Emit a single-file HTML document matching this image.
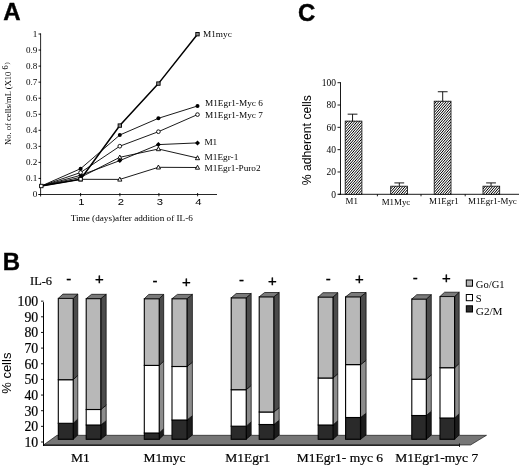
<!DOCTYPE html>
<html><head><meta charset="utf-8"><title>Figure</title>
<style>
html,body{margin:0;padding:0;background:#fff;}
svg{display:block;}
text{fill:#000;}
</style></head>
<body>
<svg width="520" height="468" viewBox="0 0 520 468">
<defs><filter id="soft" x="0" y="0" width="520" height="468" filterUnits="userSpaceOnUse"><feGaussianBlur stdDeviation="0.45"/></filter></defs>
<rect width="520" height="468" fill="#fff"/>
<g filter="url(#soft)">
<text x="3.2" y="20.4" font-family='"Liberation Sans", sans-serif' font-size="24" text-anchor="start" font-weight="bold" stroke="#000" stroke-width="0.4">A</text>
<line x1="40.6" y1="33.5" x2="40.6" y2="196.5" stroke="#000" stroke-width="0.85"/>
<line x1="38.5" y1="194.5" x2="217" y2="194.5" stroke="#000" stroke-width="0.85"/>
<line x1="38.5" y1="194.5" x2="41.0" y2="194.5" stroke="#000" stroke-width="0.9"/>
<text x="37.4" y="197.4" font-family='"Liberation Serif", serif' font-size="9.1" text-anchor="end" font-weight="normal" >0</text>
<line x1="38.5" y1="178.45" x2="41.0" y2="178.45" stroke="#000" stroke-width="0.9"/>
<text x="37.4" y="181.3" font-family='"Liberation Serif", serif' font-size="9.1" text-anchor="end" font-weight="normal" >0.1</text>
<line x1="38.5" y1="162.4" x2="41.0" y2="162.4" stroke="#000" stroke-width="0.9"/>
<text x="37.4" y="165.3" font-family='"Liberation Serif", serif' font-size="9.1" text-anchor="end" font-weight="normal" >0.2</text>
<line x1="38.5" y1="146.35" x2="41.0" y2="146.35" stroke="#000" stroke-width="0.9"/>
<text x="37.4" y="149.2" font-family='"Liberation Serif", serif' font-size="9.1" text-anchor="end" font-weight="normal" >0.3</text>
<line x1="38.5" y1="130.3" x2="41.0" y2="130.3" stroke="#000" stroke-width="0.9"/>
<text x="37.4" y="133.2" font-family='"Liberation Serif", serif' font-size="9.1" text-anchor="end" font-weight="normal" >0.4</text>
<line x1="38.5" y1="114.25" x2="41.0" y2="114.25" stroke="#000" stroke-width="0.9"/>
<text x="37.4" y="117.2" font-family='"Liberation Serif", serif' font-size="9.1" text-anchor="end" font-weight="normal" >0.5</text>
<line x1="38.5" y1="98.2" x2="41.0" y2="98.2" stroke="#000" stroke-width="0.9"/>
<text x="37.4" y="101.1" font-family='"Liberation Serif", serif' font-size="9.1" text-anchor="end" font-weight="normal" >0.6</text>
<line x1="38.5" y1="82.15" x2="41.0" y2="82.15" stroke="#000" stroke-width="0.9"/>
<text x="37.4" y="85.1" font-family='"Liberation Serif", serif' font-size="9.1" text-anchor="end" font-weight="normal" >0.7</text>
<line x1="38.5" y1="66.1" x2="41.0" y2="66.1" stroke="#000" stroke-width="0.9"/>
<text x="37.4" y="69.0" font-family='"Liberation Serif", serif' font-size="9.1" text-anchor="end" font-weight="normal" >0.8</text>
<line x1="38.5" y1="50.04999999999998" x2="41.0" y2="50.04999999999998" stroke="#000" stroke-width="0.9"/>
<text x="37.4" y="52.9" font-family='"Liberation Serif", serif' font-size="9.1" text-anchor="end" font-weight="normal" >0.9</text>
<line x1="38.5" y1="34.0" x2="41.0" y2="34.0" stroke="#000" stroke-width="0.9"/>
<text x="37.4" y="36.9" font-family='"Liberation Serif", serif' font-size="9.1" text-anchor="end" font-weight="normal" >1</text>
<line x1="80.6" y1="193.0" x2="80.6" y2="196.3" stroke="#000" stroke-width="0.9"/>
<text transform="translate(81.5,205.4) scale(1.2,1)" font-family='"Liberation Sans", sans-serif' font-size="9.4" text-anchor="middle">1</text>
<line x1="119.9" y1="193.0" x2="119.9" y2="196.3" stroke="#000" stroke-width="0.9"/>
<text transform="translate(120.8,205.4) scale(1.2,1)" font-family='"Liberation Sans", sans-serif' font-size="9.4" text-anchor="middle">2</text>
<line x1="158.9" y1="193.0" x2="158.9" y2="196.3" stroke="#000" stroke-width="0.9"/>
<text transform="translate(159.8,205.4) scale(1.2,1)" font-family='"Liberation Sans", sans-serif' font-size="9.4" text-anchor="middle">3</text>
<line x1="197.6" y1="193.0" x2="197.6" y2="196.3" stroke="#000" stroke-width="0.9"/>
<text transform="translate(198.5,205.4) scale(1.2,1)" font-family='"Liberation Sans", sans-serif' font-size="9.4" text-anchor="middle">4</text>
<text x="131.8" y="220.7" font-family='"Liberation Serif", serif' font-size="9.2" text-anchor="middle" font-weight="normal" >Time (days)after addition of IL-6</text>
<text transform="translate(11.2,103.6) rotate(-90)" font-family='"Liberation Serif", serif' font-size="8.55" text-anchor="middle">No. of cells/mL (X10<tspan dy="-3.6" dx="2.2" font-size="8.4">6</tspan><tspan dy="1.2" dx="0.8" font-size="6.5">)</tspan></text>
<polyline fill="none" stroke="#000" stroke-width="0.9" points="41.3,186.0 80.6,179.3 119.8,179.4 158.4,167.3 197.5,167.5"/>
<polyline fill="none" stroke="#000" stroke-width="0.9" points="41.3,186.0 80.6,177.3 119.8,157.3 158.4,149.0 197.5,158.0"/>
<polyline fill="none" stroke="#000" stroke-width="0.9" points="41.3,186.0 80.6,175.3 119.8,160.6 158.4,144.6 197.5,142.9"/>
<polyline fill="none" stroke="#000" stroke-width="0.9" points="41.3,186.0 80.6,172.5 119.8,146.2 158.4,131.7 197.5,114.6"/>
<polyline fill="none" stroke="#000" stroke-width="0.9" points="41.3,186.0 80.6,168.7 119.8,135.0 158.4,118.3 197.5,106.0"/>
<polyline fill="none" stroke="#000" stroke-width="1.5" points="41.3,186.0 80.6,179.2 119.8,125.6 158.4,83.6 197.5,34.2"/>
<polygon points="78.5,181.0 80.6,177.0 82.7,181.0" fill="#fff" stroke="#000" stroke-width="0.9"/>
<polygon points="117.7,181.1 119.8,177.1 121.9,181.1" fill="#fff" stroke="#000" stroke-width="0.9"/>
<polygon points="156.3,169.0 158.4,165.0 160.5,169.0" fill="#fff" stroke="#000" stroke-width="0.9"/>
<polygon points="195.4,169.2 197.5,165.2 199.6,169.2" fill="#fff" stroke="#000" stroke-width="0.9"/>
<text x="204.6" y="171.2" font-family='"Liberation Serif", serif' font-size="9.25" text-anchor="start" font-weight="normal" >M1Egr1-Puro2</text>
<polygon points="78.5,179.0 80.6,175.0 82.7,179.0" fill="#fff" stroke="#000" stroke-width="0.9"/>
<polygon points="117.7,159.0 119.8,155.0 121.9,159.0" fill="#fff" stroke="#000" stroke-width="0.9"/>
<polygon points="156.3,150.7 158.4,146.7 160.5,150.7" fill="#fff" stroke="#000" stroke-width="0.9"/>
<polygon points="195.4,159.7 197.5,155.7 199.6,159.7" fill="#fff" stroke="#000" stroke-width="0.9"/>
<text x="204.6" y="159.6" font-family='"Liberation Serif", serif' font-size="9.25" text-anchor="start" font-weight="normal" >M1Egr-1</text>
<polygon points="78.1,175.3 80.6,172.8 83.1,175.3 80.6,177.8" fill="#000"/>
<polygon points="117.3,160.6 119.8,158.1 122.3,160.6 119.8,163.1" fill="#000"/>
<polygon points="155.9,144.6 158.4,142.1 160.9,144.6 158.4,147.1" fill="#000"/>
<polygon points="195.0,142.9 197.5,140.4 200.0,142.9 197.5,145.4" fill="#000"/>
<text x="204.4" y="145.2" font-family='"Liberation Serif", serif' font-size="9.25" text-anchor="start" font-weight="normal" >M1</text>
<circle cx="80.6" cy="172.5" r="1.85" fill="#fff" stroke="#000" stroke-width="0.9"/>
<circle cx="119.8" cy="146.2" r="1.85" fill="#fff" stroke="#000" stroke-width="0.9"/>
<circle cx="158.4" cy="131.7" r="1.85" fill="#fff" stroke="#000" stroke-width="0.9"/>
<circle cx="197.5" cy="114.6" r="1.85" fill="#fff" stroke="#000" stroke-width="0.9"/>
<text x="205" y="117.5" font-family='"Liberation Serif", serif' font-size="9.25" text-anchor="start" font-weight="normal" >M1Egr1-Myc 7</text>
<circle cx="80.6" cy="168.7" r="2.0" fill="#000"/>
<circle cx="119.8" cy="135.0" r="2.0" fill="#000"/>
<circle cx="158.4" cy="118.3" r="2.0" fill="#000"/>
<circle cx="197.5" cy="106.0" r="2.0" fill="#000"/>
<text x="205" y="106" font-family='"Liberation Serif", serif' font-size="9.25" text-anchor="start" font-weight="normal" >M1Egr1-Myc 6</text>
<rect x="39.6" y="184.3" width="3.4" height="3.4" fill="#fff" stroke="#000" stroke-width="0.9"/>
<rect x="78.9" y="177.5" width="3.4" height="3.4" fill="#fff" stroke="#000" stroke-width="0.9"/>
<rect x="118.1" y="123.9" width="3.4" height="3.4" fill="#8a8a8a" stroke="#000" stroke-width="0.9"/>
<rect x="156.7" y="81.9" width="3.4" height="3.4" fill="#8a8a8a" stroke="#000" stroke-width="0.9"/>
<rect x="195.8" y="32.5" width="3.4" height="3.4" fill="#8a8a8a" stroke="#000" stroke-width="0.9"/>
<text x="203" y="36.5" font-family='"Liberation Serif", serif' font-size="9.25" text-anchor="start" font-weight="normal" >M1myc</text>
<text x="297.9" y="21.0" font-family='"Liberation Sans", sans-serif' font-size="24" text-anchor="start" font-weight="bold" stroke="#000" stroke-width="0.4">C</text>
<defs><pattern id="hatch" width="2.0" height="2.0" patternUnits="userSpaceOnUse" patternTransform="rotate(-48)"><rect width="2.0" height="2.0" fill="#fff"/><line x1="0" y1="1.0" x2="2.0" y2="1.0" stroke="#000" stroke-width="0.85"/></pattern></defs>
<line x1="340.5" y1="82.2" x2="340.5" y2="194.8" stroke="#000" stroke-width="0.9"/>
<line x1="338.5" y1="194.3" x2="519" y2="194.3" stroke="#000" stroke-width="0.9"/>
<line x1="337.5" y1="194.3" x2="340.5" y2="194.3" stroke="#000" stroke-width="0.9"/>
<text x="336.0" y="197.5" font-family='"Liberation Serif", serif' font-size="9.5" text-anchor="end" font-weight="normal" >0</text>
<line x1="337.5" y1="171.98000000000002" x2="340.5" y2="171.98000000000002" stroke="#000" stroke-width="0.9"/>
<text x="336.0" y="175.2" font-family='"Liberation Serif", serif' font-size="9.5" text-anchor="end" font-weight="normal" >20</text>
<line x1="337.5" y1="149.66000000000003" x2="340.5" y2="149.66000000000003" stroke="#000" stroke-width="0.9"/>
<text x="336.0" y="152.9" font-family='"Liberation Serif", serif' font-size="9.5" text-anchor="end" font-weight="normal" >40</text>
<line x1="337.5" y1="127.34" x2="340.5" y2="127.34" stroke="#000" stroke-width="0.9"/>
<text x="336.0" y="130.5" font-family='"Liberation Serif", serif' font-size="9.5" text-anchor="end" font-weight="normal" >60</text>
<line x1="337.5" y1="105.02000000000001" x2="340.5" y2="105.02000000000001" stroke="#000" stroke-width="0.9"/>
<text x="336.0" y="108.2" font-family='"Liberation Serif", serif' font-size="9.5" text-anchor="end" font-weight="normal" >80</text>
<line x1="337.5" y1="82.7" x2="340.5" y2="82.7" stroke="#000" stroke-width="0.9"/>
<text x="336.0" y="85.9" font-family='"Liberation Serif", serif' font-size="9.5" text-anchor="end" font-weight="normal" >100</text>
<clipPath id="cbM1"><rect x="345.2" y="121.1" width="16.7" height="73.2"/></clipPath>
<rect x="345.2" y="121.1" width="16.7" height="73.2" fill="#fff"/>
<path d="M345.2,121.09L361.9,101.88M345.2,123.94L361.9,104.73M345.2,126.79L361.9,107.58M345.2,129.64L361.9,110.43M345.2,132.49L361.9,113.28M345.2,135.34L361.9,116.13M345.2,138.19L361.9,118.98M345.2,141.04L361.9,121.83M345.2,143.89L361.9,124.68M345.2,146.74L361.9,127.53M345.2,149.59L361.9,130.38M345.2,152.44L361.9,133.23M345.2,155.29L361.9,136.08M345.2,158.14L361.9,138.93M345.2,160.99L361.9,141.78M345.2,163.84L361.9,144.63M345.2,166.69L361.9,147.48M345.2,169.54L361.9,150.33M345.2,172.39L361.9,153.18M345.2,175.24L361.9,156.03M345.2,178.09L361.9,158.88M345.2,180.94L361.9,161.73M345.2,183.79L361.9,164.58M345.2,186.64L361.9,167.43M345.2,189.49L361.9,170.28M345.2,192.34L361.9,173.13M345.2,195.19L361.9,175.98M345.2,198.04L361.9,178.83M345.2,200.89L361.9,181.68M345.2,203.74L361.9,184.53M345.2,206.59L361.9,187.38M345.2,209.44L361.9,190.23M345.2,212.29L361.9,193.08" stroke="#000" stroke-width="1.0" fill="none" clip-path="url(#cbM1)"/>
<rect x="345.2" y="121.1" width="16.7" height="73.2" fill="none" stroke="#000" stroke-width="0.8"/>
<line x1="352.54999999999995" y1="121.09040000000002" x2="352.54999999999995" y2="114.17120000000001" stroke="#000" stroke-width="0.9"/>
<line x1="347.65" y1="114.17120000000001" x2="357.44999999999993" y2="114.17120000000001" stroke="#000" stroke-width="0.9"/>
<text x="345.6" y="203.9" font-family='"Liberation Serif", serif' font-size="8.9" text-anchor="start" font-weight="normal" >M1</text>
<clipPath id="cbM1Myc"><rect x="390.7" y="186.2" width="16.8" height="8.1"/></clipPath>
<rect x="390.7" y="186.2" width="16.8" height="8.1" fill="#fff"/>
<path d="M390.7,186.15L407.5,166.83M390.7,189.00L407.5,169.68M390.7,191.85L407.5,172.53M390.7,194.70L407.5,175.38M390.7,197.55L407.5,178.23M390.7,200.40L407.5,181.08M390.7,203.25L407.5,183.93M390.7,206.10L407.5,186.78M390.7,208.95L407.5,189.63M390.7,211.80L407.5,192.48" stroke="#000" stroke-width="1.0" fill="none" clip-path="url(#cbM1Myc)"/>
<rect x="390.7" y="186.2" width="16.8" height="8.1" fill="none" stroke="#000" stroke-width="0.8"/>
<line x1="399.3" y1="186.1532" x2="399.3" y2="182.91680000000002" stroke="#000" stroke-width="0.9"/>
<line x1="394.40000000000003" y1="182.91680000000002" x2="404.2" y2="182.91680000000002" stroke="#000" stroke-width="0.9"/>
<text x="381.7" y="204.6" font-family='"Liberation Serif", serif' font-size="8.9" text-anchor="start" font-weight="normal" >M1Myc</text>
<clipPath id="cbM1Egr1"><rect x="434.2" y="101.2" width="16.8" height="93.1"/></clipPath>
<rect x="434.2" y="101.2" width="16.8" height="93.1" fill="#fff"/>
<path d="M434.2,101.23L451.0,81.90M434.2,104.08L451.0,84.75M434.2,106.93L451.0,87.60M434.2,109.78L451.0,90.45M434.2,112.63L451.0,93.30M434.2,115.48L451.0,96.15M434.2,118.33L451.0,99.00M434.2,121.18L451.0,101.85M434.2,124.03L451.0,104.70M434.2,126.88L451.0,107.55M434.2,129.73L451.0,110.40M434.2,132.58L451.0,113.25M434.2,135.43L451.0,116.10M434.2,138.28L451.0,118.95M434.2,141.13L451.0,121.80M434.2,143.98L451.0,124.65M434.2,146.83L451.0,127.50M434.2,149.68L451.0,130.35M434.2,152.53L451.0,133.20M434.2,155.38L451.0,136.05M434.2,158.23L451.0,138.90M434.2,161.08L451.0,141.75M434.2,163.93L451.0,144.60M434.2,166.78L451.0,147.45M434.2,169.63L451.0,150.30M434.2,172.48L451.0,153.15M434.2,175.33L451.0,156.00M434.2,178.18L451.0,158.85M434.2,181.03L451.0,161.70M434.2,183.88L451.0,164.55M434.2,186.73L451.0,167.40M434.2,189.58L451.0,170.25M434.2,192.43L451.0,173.10M434.2,195.28L451.0,175.95M434.2,198.13L451.0,178.80M434.2,200.98L451.0,181.65M434.2,203.83L451.0,184.50M434.2,206.68L451.0,187.35M434.2,209.53L451.0,190.20M434.2,212.38L451.0,193.05" stroke="#000" stroke-width="1.0" fill="none" clip-path="url(#cbM1Egr1)"/>
<rect x="434.2" y="101.2" width="16.8" height="93.1" fill="none" stroke="#000" stroke-width="0.8"/>
<line x1="442.70000000000005" y1="101.2256" x2="442.70000000000005" y2="91.7396" stroke="#000" stroke-width="0.9"/>
<line x1="437.80000000000007" y1="91.7396" x2="447.6" y2="91.7396" stroke="#000" stroke-width="0.9"/>
<text x="429.0" y="204.2" font-family='"Liberation Serif", serif' font-size="8.9" text-anchor="start" font-weight="normal" >M1Egr1</text>
<clipPath id="cbM1Egr1Myc"><rect x="483.0" y="186.2" width="16.7" height="8.1"/></clipPath>
<rect x="483.0" y="186.2" width="16.7" height="8.1" fill="#fff"/>
<path d="M483.0,186.15L499.7,166.94M483.0,189.00L499.7,169.79M483.0,191.85L499.7,172.64M483.0,194.70L499.7,175.49M483.0,197.55L499.7,178.34M483.0,200.40L499.7,181.19M483.0,203.25L499.7,184.04M483.0,206.10L499.7,186.89M483.0,208.95L499.7,189.74M483.0,211.80L499.7,192.59" stroke="#000" stroke-width="1.0" fill="none" clip-path="url(#cbM1Egr1Myc)"/>
<rect x="483.0" y="186.2" width="16.7" height="8.1" fill="none" stroke="#000" stroke-width="0.8"/>
<line x1="491.05" y1="186.1532" x2="491.05" y2="182.91680000000002" stroke="#000" stroke-width="0.9"/>
<line x1="486.15000000000003" y1="182.91680000000002" x2="495.95" y2="182.91680000000002" stroke="#000" stroke-width="0.9"/>
<text x="468.0" y="204.2" font-family='"Liberation Serif", serif' font-size="8.9" text-anchor="start" font-weight="normal" >M1Egr1-Myc</text>
<line x1="377.4" y1="194.3" x2="377.4" y2="196.3" stroke="#000" stroke-width="0.9"/>
<line x1="421.0" y1="194.3" x2="421.0" y2="196.3" stroke="#000" stroke-width="0.9"/>
<line x1="465.2" y1="194.3" x2="465.2" y2="196.3" stroke="#000" stroke-width="0.9"/>
<text transform="translate(311,140.3) rotate(-90)" font-family='"Liberation Sans", sans-serif' font-size="12.2" text-anchor="middle">% adherent cells</text>
<text x="2.8" y="269.7" font-family='"Liberation Sans", sans-serif' font-size="24" text-anchor="start" font-weight="bold" stroke="#000" stroke-width="0.4">B</text>
<text x="30" y="285.3" font-family='"Liberation Serif", serif' font-size="12.4" text-anchor="start" font-weight="normal" stroke="#000" stroke-width="0.2">IL-6</text>
<polygon points="43.5,445.0 57,435.3 486.5,435.3 470.5,445.0" fill="#767676" stroke="#000" stroke-width="0.6"/>
<line x1="43.5" y1="445.3" x2="459.5" y2="445.3" stroke="#000" stroke-width="1"/>
<line x1="459.5" y1="443.5" x2="459.5" y2="447.0" stroke="#000" stroke-width="0.8"/>
<line x1="43.5" y1="302.15" x2="43.5" y2="446.0" stroke="#000" stroke-width="1"/>
<line x1="41.0" y1="442.0" x2="43.5" y2="442.0" stroke="#000" stroke-width="0.9"/>
<text x="38.2" y="447.0" font-family='"Liberation Serif", serif' font-size="13.8" text-anchor="end" font-weight="normal" stroke="#000" stroke-width="0.2">10</text>
<line x1="41.0" y1="426.35" x2="43.5" y2="426.35" stroke="#000" stroke-width="0.9"/>
<text x="38.2" y="431.4" font-family='"Liberation Serif", serif' font-size="13.8" text-anchor="end" font-weight="normal" stroke="#000" stroke-width="0.2">20</text>
<line x1="41.0" y1="410.7" x2="43.5" y2="410.7" stroke="#000" stroke-width="0.9"/>
<text x="38.2" y="415.7" font-family='"Liberation Serif", serif' font-size="13.8" text-anchor="end" font-weight="normal" stroke="#000" stroke-width="0.2">30</text>
<line x1="41.0" y1="395.05" x2="43.5" y2="395.05" stroke="#000" stroke-width="0.9"/>
<text x="38.2" y="400.1" font-family='"Liberation Serif", serif' font-size="13.8" text-anchor="end" font-weight="normal" stroke="#000" stroke-width="0.2">40</text>
<line x1="41.0" y1="379.4" x2="43.5" y2="379.4" stroke="#000" stroke-width="0.9"/>
<text x="38.2" y="384.4" font-family='"Liberation Serif", serif' font-size="13.8" text-anchor="end" font-weight="normal" stroke="#000" stroke-width="0.2">50</text>
<line x1="41.0" y1="363.75" x2="43.5" y2="363.75" stroke="#000" stroke-width="0.9"/>
<text x="38.2" y="368.8" font-family='"Liberation Serif", serif' font-size="13.8" text-anchor="end" font-weight="normal" stroke="#000" stroke-width="0.2">60</text>
<line x1="41.0" y1="348.1" x2="43.5" y2="348.1" stroke="#000" stroke-width="0.9"/>
<text x="38.2" y="353.1" font-family='"Liberation Serif", serif' font-size="13.8" text-anchor="end" font-weight="normal" stroke="#000" stroke-width="0.2">70</text>
<line x1="41.0" y1="332.45" x2="43.5" y2="332.45" stroke="#000" stroke-width="0.9"/>
<text x="38.2" y="337.4" font-family='"Liberation Serif", serif' font-size="13.8" text-anchor="end" font-weight="normal" stroke="#000" stroke-width="0.2">80</text>
<line x1="41.0" y1="316.8" x2="43.5" y2="316.8" stroke="#000" stroke-width="0.9"/>
<text x="38.2" y="321.8" font-family='"Liberation Serif", serif' font-size="13.8" text-anchor="end" font-weight="normal" stroke="#000" stroke-width="0.2">90</text>
<line x1="41.0" y1="301.15" x2="43.5" y2="301.15" stroke="#000" stroke-width="0.9"/>
<text x="38.2" y="306.1" font-family='"Liberation Serif", serif' font-size="13.8" text-anchor="end" font-weight="normal" stroke="#000" stroke-width="0.2">100</text>
<text transform="translate(10.9,373.2) rotate(-90)" font-family='"Liberation Sans", sans-serif' font-size="13" text-anchor="middle">% cells</text>
<polygon points="73.2,439.3 77.8,435.0 77.8,419.0 73.2,423.3" fill="#1a1a1a" stroke="#000" stroke-width="0.7" stroke-linejoin="round"/>
<rect x="58.3" y="423.3" width="14.900000000000006" height="16.0" fill="#292929" stroke="#000" stroke-width="1.1"/>
<polygon points="73.2,423.3 77.8,419.0 77.8,375.4 73.2,379.7" fill="#8c8c8c" stroke="#000" stroke-width="0.7" stroke-linejoin="round"/>
<rect x="58.3" y="379.7" width="14.900000000000006" height="43.60000000000002" fill="#ffffff" stroke="#000" stroke-width="1.1"/>
<polygon points="73.2,379.7 77.8,375.4 77.8,294.09999999999997 73.2,298.4" fill="#4c4c4c" stroke="#000" stroke-width="0.7" stroke-linejoin="round"/>
<rect x="58.3" y="298.4" width="14.900000000000006" height="81.30000000000001" fill="#b8b8b8" stroke="#000" stroke-width="1.1"/>
<polygon points="58.3,298.4 62.9,294.09999999999997 77.8,294.09999999999997 73.2,298.4" fill="#7a7a7a" stroke="#000" stroke-width="0.7" stroke-linejoin="round"/>
<polygon points="100.8,439.3 106.2,435.0 106.2,420.7 100.8,425.0" fill="#1a1a1a" stroke="#000" stroke-width="0.7" stroke-linejoin="round"/>
<rect x="86.2" y="425.0" width="14.599999999999994" height="14.300000000000011" fill="#292929" stroke="#000" stroke-width="1.1"/>
<polygon points="100.8,425.0 106.2,420.7 106.2,405.2 100.8,409.5" fill="#8c8c8c" stroke="#000" stroke-width="0.7" stroke-linejoin="round"/>
<rect x="86.2" y="409.5" width="14.599999999999994" height="15.5" fill="#ffffff" stroke="#000" stroke-width="1.1"/>
<polygon points="100.8,409.5 106.2,405.2 106.2,294.3 100.8,298.6" fill="#4c4c4c" stroke="#000" stroke-width="0.7" stroke-linejoin="round"/>
<rect x="86.2" y="298.6" width="14.599999999999994" height="110.89999999999998" fill="#b8b8b8" stroke="#000" stroke-width="1.1"/>
<polygon points="86.2,298.6 91.60000000000001,294.3 106.2,294.3 100.8,298.6" fill="#7a7a7a" stroke="#000" stroke-width="0.7" stroke-linejoin="round"/>
<polygon points="159.2,439.3 163.7,435.0 163.7,428.7 159.2,433.0" fill="#1a1a1a" stroke="#000" stroke-width="0.7" stroke-linejoin="round"/>
<rect x="144.3" y="433.0" width="14.899999999999977" height="6.300000000000011" fill="#292929" stroke="#000" stroke-width="1.1"/>
<polygon points="159.2,433.0 163.7,428.7 163.7,361.09999999999997 159.2,365.4" fill="#8c8c8c" stroke="#000" stroke-width="0.7" stroke-linejoin="round"/>
<rect x="144.3" y="365.4" width="14.899999999999977" height="67.60000000000002" fill="#ffffff" stroke="#000" stroke-width="1.1"/>
<polygon points="159.2,365.4 163.7,361.09999999999997 163.7,294.4 159.2,298.7" fill="#4c4c4c" stroke="#000" stroke-width="0.7" stroke-linejoin="round"/>
<rect x="144.3" y="298.7" width="14.899999999999977" height="66.69999999999999" fill="#b8b8b8" stroke="#000" stroke-width="1.1"/>
<polygon points="144.3,298.7 148.8,294.4 163.7,294.4 159.2,298.7" fill="#7a7a7a" stroke="#000" stroke-width="0.7" stroke-linejoin="round"/>
<polygon points="187.0,439.3 192.4,435.0 192.4,415.7 187.0,420.0" fill="#1a1a1a" stroke="#000" stroke-width="0.7" stroke-linejoin="round"/>
<rect x="172.0" y="420.0" width="15.0" height="19.30000000000001" fill="#292929" stroke="#000" stroke-width="1.1"/>
<polygon points="187.0,420.0 192.4,415.7 192.4,362.2 187.0,366.5" fill="#8c8c8c" stroke="#000" stroke-width="0.7" stroke-linejoin="round"/>
<rect x="172.0" y="366.5" width="15.0" height="53.5" fill="#ffffff" stroke="#000" stroke-width="1.1"/>
<polygon points="187.0,366.5 192.4,362.2 192.4,294.4 187.0,298.7" fill="#4c4c4c" stroke="#000" stroke-width="0.7" stroke-linejoin="round"/>
<rect x="172.0" y="298.7" width="15.0" height="67.80000000000001" fill="#b8b8b8" stroke="#000" stroke-width="1.1"/>
<polygon points="172.0,298.7 177.4,294.4 192.4,294.4 187.0,298.7" fill="#7a7a7a" stroke="#000" stroke-width="0.7" stroke-linejoin="round"/>
<polygon points="246.2,439.3 251.2,435.0 251.2,421.9 246.2,426.2" fill="#1a1a1a" stroke="#000" stroke-width="0.7" stroke-linejoin="round"/>
<rect x="231.2" y="426.2" width="15.0" height="13.100000000000023" fill="#292929" stroke="#000" stroke-width="1.1"/>
<polygon points="246.2,426.2 251.2,421.9 251.2,385.4 246.2,389.7" fill="#8c8c8c" stroke="#000" stroke-width="0.7" stroke-linejoin="round"/>
<rect x="231.2" y="389.7" width="15.0" height="36.5" fill="#ffffff" stroke="#000" stroke-width="1.1"/>
<polygon points="246.2,389.7 251.2,385.4 251.2,293.5 246.2,297.8" fill="#4c4c4c" stroke="#000" stroke-width="0.7" stroke-linejoin="round"/>
<rect x="231.2" y="297.8" width="15.0" height="91.89999999999998" fill="#b8b8b8" stroke="#000" stroke-width="1.1"/>
<polygon points="231.2,297.8 236.2,293.5 251.2,293.5 246.2,297.8" fill="#7a7a7a" stroke="#000" stroke-width="0.7" stroke-linejoin="round"/>
<polygon points="273.8,439.3 279.2,435.0 279.2,420.2 273.8,424.5" fill="#1a1a1a" stroke="#000" stroke-width="0.7" stroke-linejoin="round"/>
<rect x="259.2" y="424.5" width="14.600000000000023" height="14.800000000000011" fill="#292929" stroke="#000" stroke-width="1.1"/>
<polygon points="273.8,424.5 279.2,420.2 279.2,407.7 273.8,412.0" fill="#8c8c8c" stroke="#000" stroke-width="0.7" stroke-linejoin="round"/>
<rect x="259.2" y="412.0" width="14.600000000000023" height="12.5" fill="#ffffff" stroke="#000" stroke-width="1.1"/>
<polygon points="273.8,412.0 279.2,407.7 279.2,292.5 273.8,296.8" fill="#4c4c4c" stroke="#000" stroke-width="0.7" stroke-linejoin="round"/>
<rect x="259.2" y="296.8" width="14.600000000000023" height="115.19999999999999" fill="#b8b8b8" stroke="#000" stroke-width="1.1"/>
<polygon points="259.2,296.8 264.59999999999997,292.5 279.2,292.5 273.8,296.8" fill="#7a7a7a" stroke="#000" stroke-width="0.7" stroke-linejoin="round"/>
<polygon points="333.0,439.3 337.8,435.0 337.8,420.7 333.0,425.0" fill="#1a1a1a" stroke="#000" stroke-width="0.7" stroke-linejoin="round"/>
<rect x="318.2" y="425.0" width="14.800000000000011" height="14.300000000000011" fill="#292929" stroke="#000" stroke-width="1.1"/>
<polygon points="333.0,425.0 337.8,420.7 337.8,373.7 333.0,378.0" fill="#8c8c8c" stroke="#000" stroke-width="0.7" stroke-linejoin="round"/>
<rect x="318.2" y="378.0" width="14.800000000000011" height="47.0" fill="#ffffff" stroke="#000" stroke-width="1.1"/>
<polygon points="333.0,378.0 337.8,373.7 337.8,292.7 333.0,297.0" fill="#4c4c4c" stroke="#000" stroke-width="0.7" stroke-linejoin="round"/>
<rect x="318.2" y="297.0" width="14.800000000000011" height="81.0" fill="#b8b8b8" stroke="#000" stroke-width="1.1"/>
<polygon points="318.2,297.0 323.0,292.7 337.8,292.7 333.0,297.0" fill="#7a7a7a" stroke="#000" stroke-width="0.7" stroke-linejoin="round"/>
<polygon points="360.5,439.3 366.1,435.0 366.1,413.2 360.5,417.5" fill="#1a1a1a" stroke="#000" stroke-width="0.7" stroke-linejoin="round"/>
<rect x="345.6" y="417.5" width="14.899999999999977" height="21.80000000000001" fill="#292929" stroke="#000" stroke-width="1.1"/>
<polygon points="360.5,417.5 366.1,413.2 366.1,360.3 360.5,364.6" fill="#8c8c8c" stroke="#000" stroke-width="0.7" stroke-linejoin="round"/>
<rect x="345.6" y="364.6" width="14.899999999999977" height="52.89999999999998" fill="#ffffff" stroke="#000" stroke-width="1.1"/>
<polygon points="360.5,364.6 366.1,360.3 366.1,292.5 360.5,296.8" fill="#4c4c4c" stroke="#000" stroke-width="0.7" stroke-linejoin="round"/>
<rect x="345.6" y="296.8" width="14.899999999999977" height="67.80000000000001" fill="#b8b8b8" stroke="#000" stroke-width="1.1"/>
<polygon points="345.6,296.8 351.20000000000005,292.5 366.1,292.5 360.5,296.8" fill="#7a7a7a" stroke="#000" stroke-width="0.7" stroke-linejoin="round"/>
<polygon points="426.3,439.3 431.3,435.0 431.3,411.2 426.3,415.5" fill="#1a1a1a" stroke="#000" stroke-width="0.7" stroke-linejoin="round"/>
<rect x="411.8" y="415.5" width="14.5" height="23.80000000000001" fill="#292929" stroke="#000" stroke-width="1.1"/>
<polygon points="426.3,415.5 431.3,411.2 431.3,374.9 426.3,379.2" fill="#8c8c8c" stroke="#000" stroke-width="0.7" stroke-linejoin="round"/>
<rect x="411.8" y="379.2" width="14.5" height="36.30000000000001" fill="#ffffff" stroke="#000" stroke-width="1.1"/>
<polygon points="426.3,379.2 431.3,374.9 431.3,294.7 426.3,299.0" fill="#4c4c4c" stroke="#000" stroke-width="0.7" stroke-linejoin="round"/>
<rect x="411.8" y="299.0" width="14.5" height="80.19999999999999" fill="#b8b8b8" stroke="#000" stroke-width="1.1"/>
<polygon points="411.8,299.0 416.8,294.7 431.3,294.7 426.3,299.0" fill="#7a7a7a" stroke="#000" stroke-width="0.7" stroke-linejoin="round"/>
<polygon points="454.6,439.3 459.20000000000005,435.0 459.20000000000005,413.7 454.6,418.0" fill="#1a1a1a" stroke="#000" stroke-width="0.7" stroke-linejoin="round"/>
<rect x="440.0" y="418.0" width="14.600000000000023" height="21.30000000000001" fill="#292929" stroke="#000" stroke-width="1.1"/>
<polygon points="454.6,418.0 459.20000000000005,413.7 459.20000000000005,363.4 454.6,367.7" fill="#8c8c8c" stroke="#000" stroke-width="0.7" stroke-linejoin="round"/>
<rect x="440.0" y="367.7" width="14.600000000000023" height="50.30000000000001" fill="#ffffff" stroke="#000" stroke-width="1.1"/>
<polygon points="454.6,367.7 459.20000000000005,363.4 459.20000000000005,292.2 454.6,296.5" fill="#4c4c4c" stroke="#000" stroke-width="0.7" stroke-linejoin="round"/>
<rect x="440.0" y="296.5" width="14.600000000000023" height="71.19999999999999" fill="#b8b8b8" stroke="#000" stroke-width="1.1"/>
<polygon points="440.0,296.5 444.6,292.2 459.20000000000005,292.2 454.6,296.5" fill="#7a7a7a" stroke="#000" stroke-width="0.7" stroke-linejoin="round"/>
<text x="68.7" y="283.5" font-family='"Liberation Sans", sans-serif' font-size="15" text-anchor="middle" font-weight="normal" stroke="#000" stroke-width="0.35">-</text>
<text x="99.5" y="284.4" font-family='"Liberation Sans", sans-serif' font-size="15" text-anchor="middle" font-weight="normal" stroke="#000" stroke-width="0.35">+</text>
<text x="155" y="285.7" font-family='"Liberation Sans", sans-serif' font-size="15" text-anchor="middle" font-weight="normal" stroke="#000" stroke-width="0.35">-</text>
<text x="186.3" y="286.7" font-family='"Liberation Sans", sans-serif' font-size="15" text-anchor="middle" font-weight="normal" stroke="#000" stroke-width="0.35">+</text>
<text x="241.5" y="284.7" font-family='"Liberation Sans", sans-serif' font-size="15" text-anchor="middle" font-weight="normal" stroke="#000" stroke-width="0.35">-</text>
<text x="272.5" y="285.5" font-family='"Liberation Sans", sans-serif' font-size="15" text-anchor="middle" font-weight="normal" stroke="#000" stroke-width="0.35">+</text>
<text x="328.3" y="284.1" font-family='"Liberation Sans", sans-serif' font-size="15" text-anchor="middle" font-weight="normal" stroke="#000" stroke-width="0.35">-</text>
<text x="359.5" y="283.9" font-family='"Liberation Sans", sans-serif' font-size="15" text-anchor="middle" font-weight="normal" stroke="#000" stroke-width="0.35">+</text>
<text x="415.2" y="283.1" font-family='"Liberation Sans", sans-serif' font-size="15" text-anchor="middle" font-weight="normal" stroke="#000" stroke-width="0.35">-</text>
<text x="446.4" y="283.0" font-family='"Liberation Sans", sans-serif' font-size="15" text-anchor="middle" font-weight="normal" stroke="#000" stroke-width="0.35">+</text>
<text x="71.0" y="462" font-family='"Liberation Serif", serif' font-size="13.5" text-anchor="start" font-weight="normal" stroke="#000" stroke-width="0.2">M1</text>
<text x="143.6" y="462" font-family='"Liberation Serif", serif' font-size="13.5" text-anchor="start" font-weight="normal" stroke="#000" stroke-width="0.2">M1myc</text>
<text x="225.3" y="462" font-family='"Liberation Serif", serif' font-size="13.5" text-anchor="start" font-weight="normal" stroke="#000" stroke-width="0.2">M1Egr1</text>
<text x="296.8" y="462" font-family='"Liberation Serif", serif' font-size="13.5" text-anchor="start" font-weight="normal" stroke="#000" stroke-width="0.2">M1Egr1- myc 6</text>
<text x="395.3" y="462" font-family='"Liberation Serif", serif' font-size="13.5" text-anchor="start" font-weight="normal" stroke="#000" stroke-width="0.2">M1Egr1-myc 7</text>
<rect x="466.3" y="280" width="6.2" height="6.2" fill="#b4b4b4" stroke="#000" stroke-width="1"/>
<text x="475.8" y="287.8" font-family='"Liberation Serif", serif' font-size="10.6" text-anchor="start" font-weight="normal" >Go/G1</text>
<rect x="466.3" y="294.5" width="6.2" height="6.2" fill="#fff" stroke="#000" stroke-width="1"/>
<text x="475.8" y="302" font-family='"Liberation Serif", serif' font-size="10.6" text-anchor="start" font-weight="normal" >S</text>
<rect x="466.3" y="305.8" width="6.2" height="6.2" fill="#2e2e2e" stroke="#000" stroke-width="1"/>
<text x="475.8" y="314.5" font-family='"Liberation Serif", serif' font-size="11.2" text-anchor="start" font-weight="normal" >G2/M</text>
</g>
</svg>
</body></html>
